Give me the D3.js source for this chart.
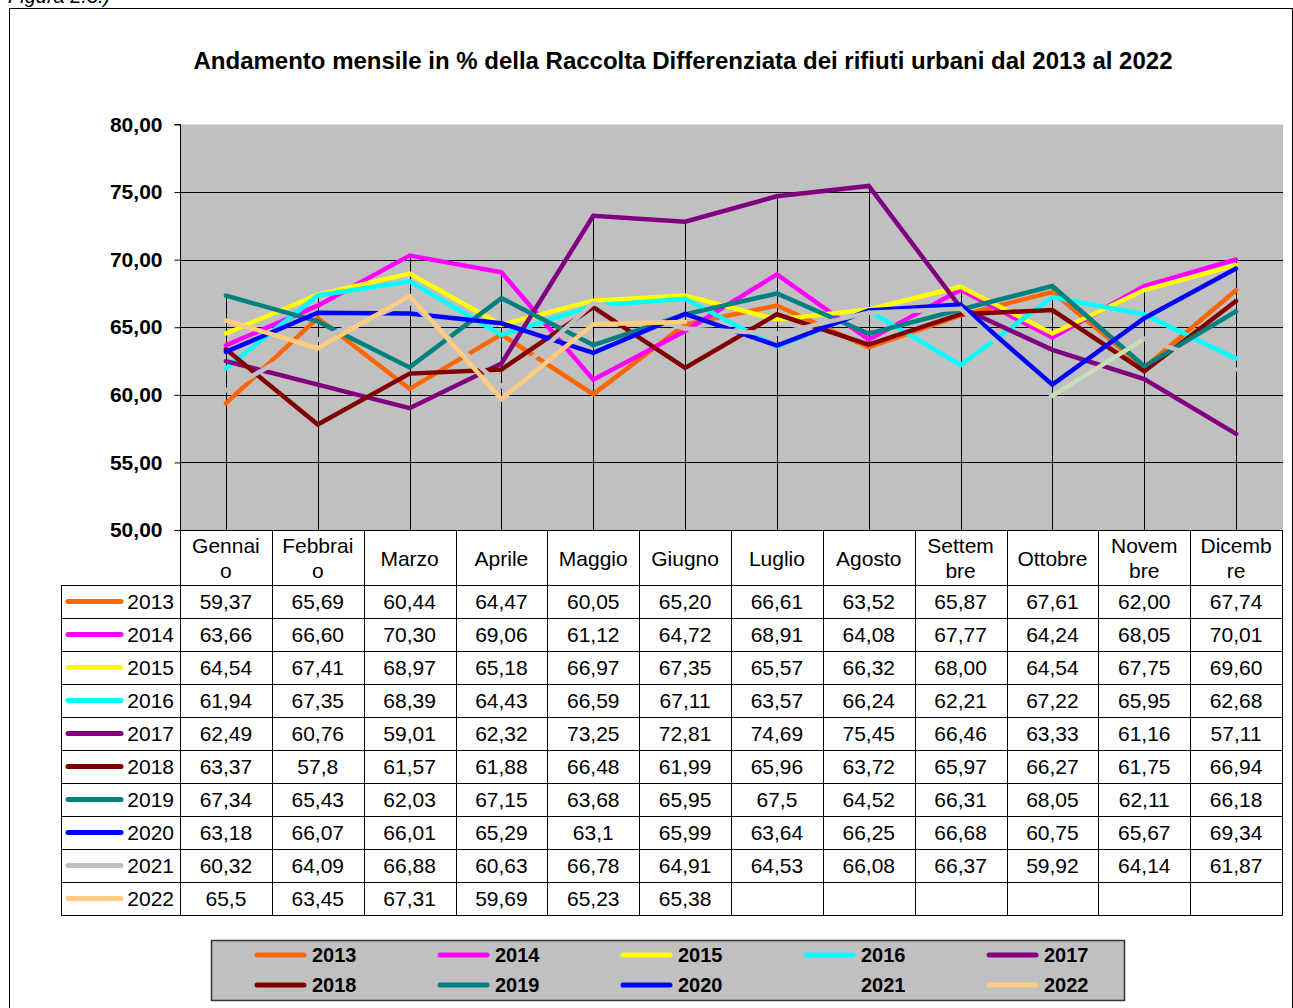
<!DOCTYPE html>
<html><head><meta charset="utf-8">
<script src="https://cdn.jsdelivr.net/npm/d3@7"></script>
<style>
body{margin:0;background:#fff;}
svg{display:block;font-family:"Liberation Sans",Arial,sans-serif;}
</style></head>
<body>
<svg id="c" width="1293" height="1008"></svg>
<script>
const months = ["Gennaio","Febbraio","Marzo","Aprile","Maggio","Giugno","Luglio","Agosto","Settembre","Ottobre","Novembre","Dicembre"];
const monthHeaders = [["Gennai","o"],["Febbrai","o"],["Marzo"],["Aprile"],["Maggio"],["Giugno"],["Luglio"],["Agosto"],["Settem","bre"],["Ottobre"],["Novem","bre"],["Dicemb","re"]];
const years = ["2013","2014","2015","2016","2017","2018","2019","2020","2021","2022"];
const v2013 = ["59,37","65,69","60,44","64,47","60,05","65,20","66,61","63,52","65,87","67,61","62,00","67,74"];
const v2014 = ["63,66","66,60","70,30","69,06","61,12","64,72","68,91","64,08","67,77","64,24","68,05","70,01"];
const v2015 = ["64,54","67,41","68,97","65,18","66,97","67,35","65,57","66,32","68,00","64,54","67,75","69,60"];
const v2016 = ["61,94","67,35","68,39","64,43","66,59","67,11","63,57","66,24","62,21","67,22","65,95","62,68"];
const v2017 = ["62,49","60,76","59,01","62,32","73,25","72,81","74,69","75,45","66,46","63,33","61,16","57,11"];
const v2018 = ["63,37","57,8","61,57","61,88","66,48","61,99","65,96","63,72","65,97","66,27","61,75","66,94"];
const v2019 = ["67,34","65,43","62,03","67,15","63,68","65,95","67,5","64,52","66,31","68,05","62,11","66,18"];
const v2020 = ["63,18","66,07","66,01","65,29","63,1","65,99","63,64","66,25","66,68","60,75","65,67","69,34"];
const v2021 = ["60,32","64,09","66,88","60,63","66,78","64,91","64,53","66,08","66,37","59,92","64,14","61,87"];
const v2022 = ["65,5","63,45","67,31","59,69","65,23","65,38"];
const seriesValues = [v2013,v2014,v2015,v2016,v2017,v2018,v2019,v2020,v2021,v2022];
const colors = ["#FF6600","#FF00FF","#FFFF00","#00FFFF","#800080","#800000","#008080","#0000FF","#C0C0C0","#FFCC80"];
const yTicks = [50,55,60,65,70,75,80];
const title = "Andamento mensile in % della Raccolta Differenziata dei rifiuti urbani dal 2013 al 2022";

const num = s => +s.replace(",",".");
const series = years.map((y,i)=>({year:y,color:colors[i],labels:seriesValues[i],
  values:seriesValues[i].map((s,j)=>({m:months[j],v:num(s)}))}));

const svg = d3.select("#c");
const L=180, R=1282, T=124.5, B=530;
const x = d3.scaleBand().domain(months).range([L,R]);
const bw = x.bandwidth();
const cx = m => x(m)+bw/2;
const y = d3.scaleLinear().domain([50,80]).range([B,T]);
const FS = 21;

// frame and figure caption
svg.append("text").attr("x",8).attr("y",3).attr("font-size",20).attr("font-style","italic").text("Figura 2.3.)");
svg.append("rect").attr("x",9.5).attr("y",8.5).attr("width",1283).attr("height",1010)
  .attr("fill","none").attr("stroke","#000").attr("stroke-width",1);

// title
svg.append("text").attr("x",683).attr("y",69).attr("text-anchor","middle")
  .attr("font-size",24).attr("font-weight","bold").text(title);

// plot background
svg.append("rect").attr("x",L).attr("y",T).attr("width",R-L+1).attr("height",B-T).attr("fill","#C0C0C0");

// gridlines
svg.append("g").selectAll("line").data(yTicks.filter(d=>d>50&&d<80)).join("line")
  .attr("x1",L).attr("x2",R+1).attr("y1",d=>Math.round(y(d))+0.5).attr("y2",d=>Math.round(y(d))+0.5)
  .attr("stroke","#000").attr("stroke-width",1);

// drop lines from the highest value of each month
const maxByMonth = months.map(m=>({m, v:d3.max(series,s=>{const p=s.values.find(q=>q.m===m);return p?p.v:undefined;})}));
svg.append("g").selectAll("line").data(maxByMonth).join("line")
  .attr("x1",d=>Math.round(cx(d.m))+0.5).attr("x2",d=>Math.round(cx(d.m))+0.5)
  .attr("y1",d=>y(d.v)).attr("y2",B).attr("stroke","#000").attr("stroke-width",1);

// y axis
const yAxis = d3.axisLeft(y).tickValues(yTicks).tickSize(6).tickPadding(12)
  .tickFormat(d=>d3.format(".2f")(d).replace(".",","));
const ga = svg.append("g").attr("transform",`translate(${L+0.5},0)`).call(yAxis);
ga.select(".domain").attr("stroke","#000").attr("d",`M-6,${T}H0V${B}`);
ga.selectAll(".tick line").attr("stroke","#000");
ga.selectAll(".tick text").attr("font-size",FS).attr("font-weight","bold").attr("fill","#000")
  .attr("font-family","Liberation Sans, Arial, sans-serif");

// lines
const line = d3.line().x(d=>cx(d.m)).y(d=>y(d.v));
const gl = svg.append("g");
series.forEach(s=>{
  if(s.year==="2021"){
    for(let i=0;i<s.values.length-1;i++){
      const seg=[s.values[i],s.values[i+1]];
      gl.append("path").attr("d",line(seg)).attr("fill","none")
        .attr("stroke", s.values[i].m==="Ottobre" ? "#C8DEB4" : s.color)
        .attr("stroke-width",4.5).attr("stroke-linejoin","round").attr("stroke-linecap","round");
    }
  } else {
    gl.append("path").attr("d",line(s.values)).attr("fill","none").attr("stroke",s.color)
      .attr("stroke-width",4.5).attr("stroke-linejoin","miter").attr("stroke-linecap","round");
  }
});
svg.append("line").attr("x1",L).attr("x2",R).attr("y1",B+0.5).attr("y2",B+0.5).attr("stroke","#000");

// data table
const tTop = B, hdrH = 55, rowH = 33, tLeft = 61;
const tb = svg.append("g");
const rowsTop = tTop+hdrH;
const tBottom = rowsTop + rowH*years.length;
tb.selectAll("line.h").data(d3.range(years.length+1)).join("line")
  .attr("x1",tLeft).attr("x2",R+0.5)
  .attr("y1",d=>rowsTop+d*rowH+0.5).attr("y2",d=>rowsTop+d*rowH+0.5).attr("stroke","#000");
const vx = months.map(m=>x(m)).concat([R]);
tb.selectAll("line.v").data(vx).join("line")
  .attr("x1",d=>Math.round(d)+0.5).attr("x2",d=>Math.round(d)+0.5)
  .attr("y1",tTop).attr("y2",tBottom+0.5).attr("stroke","#000");
tb.append("line").attr("x1",tLeft+0.5).attr("x2",tLeft+0.5).attr("y1",rowsTop).attr("y2",tBottom+0.5).attr("stroke","#000");
months.forEach((m,i)=>{
  const lines = monthHeaders[i];
  const t = tb.append("text").attr("text-anchor","middle").attr("font-size",FS).attr("fill","#000");
  if(lines.length===1){
    t.append("tspan").attr("x",cx(m)).attr("y",tTop+35.5).text(lines[0]);
  } else {
    t.append("tspan").attr("x",cx(m)).attr("y",tTop+23).text(lines[0]);
    t.append("tspan").attr("x",cx(m)).attr("y",tTop+48).text(lines[1]);
  }
});
series.forEach((s,r)=>{
  const ry = rowsTop + r*rowH + rowH/2;
  tb.append("line").attr("x1",68).attr("x2",121).attr("y1",ry).attr("y2",ry)
    .attr("stroke",s.color).attr("stroke-width",5).attr("stroke-linecap","round");
  tb.append("text").attr("x",174).attr("y",ry+7.5).attr("text-anchor","end").attr("font-size",FS).text(s.year);
  s.labels.forEach((lab,j)=>{
    tb.append("text").attr("x",cx(months[j])).attr("y",ry+7.5).attr("text-anchor","middle")
      .attr("font-size",FS).text(lab);
  });
});

// legend
const lg = svg.append("g");
lg.append("rect").attr("x",211.5).attr("y",940.5).attr("width",913).attr("height",60)
  .attr("fill","#C0C0C0").attr("stroke","#333").attr("stroke-width",1.5);
series.forEach((s,i)=>{
  const col=i%5, row=Math.floor(i/5);
  const lx = 257 + col*183, ly = 955 + row*30;
  if(s.year!=="2021"){
    lg.append("line").attr("x1",lx).attr("x2",lx+47).attr("y1",ly).attr("y2",ly)
      .attr("stroke",s.color).attr("stroke-width",5).attr("stroke-linecap","round");
  }
  lg.append("text").attr("x",lx+55).attr("y",ly+7).attr("font-size",20).attr("font-weight","bold").text(s.year);
});
</script>
</body></html>
